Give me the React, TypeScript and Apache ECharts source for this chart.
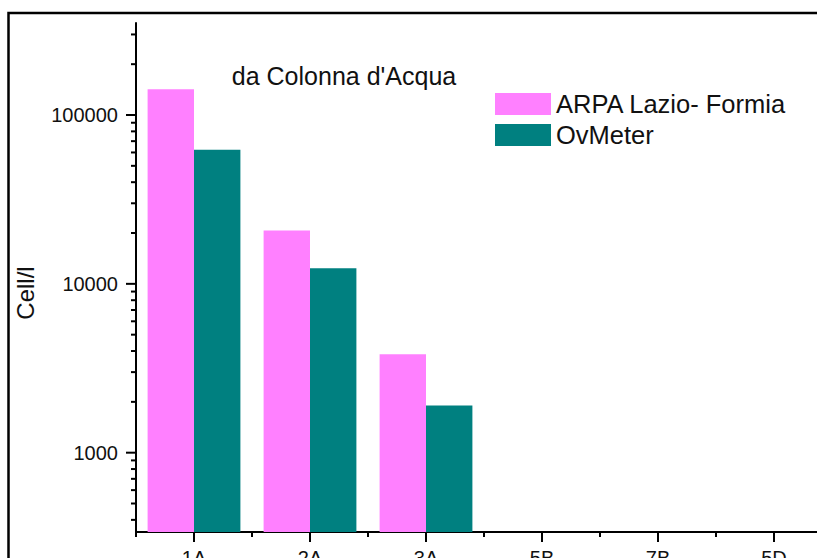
import React, { useEffect, useRef } from "react";
import * as echarts from "echarts";

const categories = ["1A", "2A", "3A", "5B", "7B", "5D"];
const arpaValues = [142000, 20700, 3830, null, null, null];
const ovmeterValues = [62300, 12370, 1900, null, null, null];
const yMajorTicks = [1000, 10000, 100000];
const yMinorTicks = [
  400, 500, 600, 700, 800, 900,
  2000, 3000, 4000, 5000, 6000, 7000, 8000, 9000,
  20000, 30000, 40000, 50000, 60000, 70000, 80000, 90000,
  200000, 300000,
];
const yMin = 339;
const yMax = 350700;

const FONT = "'Liberation Sans', Arial, sans-serif";

export default function App() {
  const ref = useRef<HTMLDivElement>(null);

  useEffect(() => {
    if (!ref.current) return;
    const chart = echarts.init(ref.current, null, { renderer: "svg" });

    const tickData = [
      ...yMajorTicks.map((v) => [0, v, 10]),
      ...yMinorTicks.map((v) => [0, v, 5]),
    ];

    const option: any = {
      animation: false,
      backgroundColor: "#fff",
      textStyle: { fontFamily: FONT },
      grid: {
        left: 136,
        top: 23,
        width: 696,
        height: 509,
        containLabel: false,
        outerBoundsMode: "none",
      },
      legend: {
        orient: "vertical",
        left: 495,
        top: 91,
        padding: 0,
        itemWidth: 56,
        itemHeight: 22,
        itemGap: 5,
        icon: "rect",
        data: ["ARPA Lazio- Formia", "OvMeter"],
        textStyle: { fontSize: 25.5, color: "#111", fontFamily: FONT, lineHeight: 22 },
      },
      xAxis: [
        {
          type: "category",
          data: categories,
          position: "bottom",
          boundaryGap: true,
          axisLine: { show: true, lineStyle: { color: "#000", width: 2 } },
          axisTick: { show: true, alignWithLabel: true, length: 10, lineStyle: { color: "#000", width: 2 } },
          axisLabel: { fontSize: 20, color: "#111", margin: 16, fontFamily: FONT, interval: 0 },
          splitLine: { show: false },
        },
        {
          type: "category",
          data: categories,
          position: "bottom",
          boundaryGap: true,
          offset: 0,
          axisLine: { show: false },
          axisTick: { show: true, length: 5, interval: 0, lineStyle: { color: "#000", width: 2 } },
          axisLabel: { show: false },
          splitLine: { show: false },
        },
      ],
      yAxis: {
        type: "log",
        logBase: 10,
        min: yMin,
        max: yMax,
        axisLine: { show: true, lineStyle: { color: "#000", width: 2 } },
        axisTick: { show: false },
        splitLine: { show: false },
        minorTick: { show: false },
        axisLabel: {
          fontSize: 20,
          color: "#111",
          margin: 18,
          fontFamily: FONT,
          showMinLabel: false,
          showMaxLabel: false,
          formatter: (v: number) => {
            const l = Math.log10(v);
            return Math.abs(l - Math.round(l)) < 1e-6 ? String(Math.round(v)) : "";
          },
        },
      },
      series: [
        {
          name: "ARPA Lazio- Formia",
          type: "bar",
          xAxisIndex: 0,
          data: arpaValues,
          barGap: "0%",
          barCategoryGap: "20%",
          itemStyle: { color: "#FF80FF" },
        },
        {
          name: "OvMeter",
          type: "bar",
          xAxisIndex: 0,
          data: ovmeterValues,
          barGap: "0%",
          barCategoryGap: "20%",
          itemStyle: { color: "#008080" },
        },
        {
          name: "yTicks",
          type: "custom",
          xAxisIndex: 0,
          yAxisIndex: 0,
          silent: true,
          clip: false,
          data: tickData,
          renderItem: (params: any, api: any) => {
            const y = api.coord([0, api.value(1)])[1];
            const len = api.value(2);
            const x0 = params.coordSys.x;
            return {
              type: "line",
              shape: { x1: x0 - len, y1: y, x2: x0, y2: y },
              style: { stroke: "#000", lineWidth: 2 },
            };
          },
        },
      ],
      graphic: [
        {
          type: "rect",
          z: -1,
          shape: { x: 8.5, y: 13, width: 900, height: 700 },
          style: { fill: "none", stroke: "#000", lineWidth: 2.5 },
          silent: true,
        },
        {
          type: "text",
          x: 344,
          y: 76,
          style: {
            text: "da Colonna d'Acqua",
            fontSize: 25,
            fontFamily: FONT,
            fill: "#111",
            align: "center",
            verticalAlign: "middle",
          },
        },
        {
          type: "text",
          x: 25,
          y: 293,
          rotation: Math.PI / 2,
          style: {
            text: "Cell/l",
            fontSize: 24,
            fontFamily: FONT,
            fill: "#111",
            align: "center",
            verticalAlign: "middle",
          },
        },
      ],
    };

    chart.setOption(option);
    return () => chart.dispose();
  }, []);

  return (
    <div
      ref={ref}
      style={{ position: "fixed", left: 0, top: 0, width: 817, height: 558 }}
    />
  );
}
